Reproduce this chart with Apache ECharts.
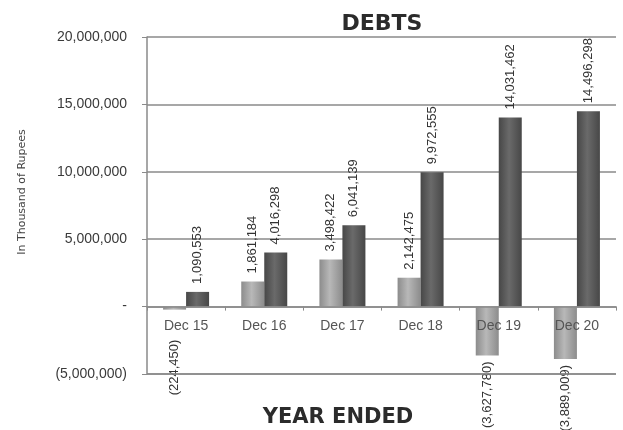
<!DOCTYPE html>
<html>
<head>
<meta charset="utf-8">
<script src="https://cdn.jsdelivr.net/npm/echarts@6/dist/echarts.min.js"></script>
<style>
  html, body { margin: 0; padding: 0; background: #fff; }
  #chart { width: 623px; height: 430px; }
</style>
</head>
<body>
<div id="chart"></div>
<script>
// Year-end debt figures, in thousand of rupees
var categories = ['Dec 15', 'Dec 16', 'Dec 17', 'Dec 18', 'Dec 19', 'Dec 20'];
var movement = [-224450, 1861184, 3498422, 2142475, -3627780, -3889009];
var totalDebt = [1090553, 4016298, 6041139, 9972555, 14031462, 14496298];
var yTicks = { min: -5000000, max: 20000000, step: 5000000 };

function fmt(v) {
  var s = Math.abs(v).toLocaleString('en-US');
  return v < 0 ? '(' + s + ')' : s;
}

var labelFont = { fontFamily: 'Liberation Sans, Arial, sans-serif', fontSize: 13, color: '#333' };
var gridColor = '#8a8a8a';

function barLabel(v) {
  if (v >= 0) {
    return Object.assign({ show: true, position: 'top', rotate: 90, align: 'left',
      verticalAlign: 'middle', distance: 8, formatter: function (p) { return fmt(p.value); } }, labelFont);
  }
  // short negative bars sit under the category label, so push their value further down
  var dist = v > -1000000 ? 30 : 6;
  return Object.assign({ show: true, position: 'bottom', rotate: 90, align: 'right',
    verticalAlign: 'middle', distance: dist, formatter: function (p) { return fmt(p.value); } }, labelFont);
}

function cylinder(edge, mid) {
  return new echarts.graphic.LinearGradient(0, 0, 1, 0, [
    { offset: 0, color: edge },
    { offset: 0.45, color: mid },
    { offset: 1, color: edge }
  ]);
}

function buildData(values) {
  return values.map(function (v) { return { value: v, label: barLabel(v) }; });
}

// plot area geometry
var gridBox = { left: 147, right: 7, top: 37, bottom: 56 };
var plotH = 430 - gridBox.top - gridBox.bottom;
// distance from the zero line to the bottom edge of the plot
var zeroToBottom = plotH * (0 - yTicks.min) / (yTicks.max - yTicks.min);

var chart = echarts.init(document.getElementById('chart'));
chart.setOption({
  animation: false,
  backgroundColor: '#fff',
  title: [
    { text: 'DEBTS', left: 377, top: 8, textAlign: 'center',
      textStyle: { fontFamily: 'DejaVu Sans', fontWeight: 'bold', fontSize: 22, color: '#2b2b2b' } },
    { text: 'YEAR ENDED', left: 333, top: 402, textAlign: 'center',
      textStyle: { fontFamily: 'DejaVu Sans', fontWeight: 'bold', fontSize: 21, color: '#2b2b2b' } }
  ],
  graphic: [{
    type: 'text', x: 22, y: 192, rotation: Math.PI / 2,
    style: { text: 'In Thousand of Rupees', fontFamily: 'DejaVu Sans', fontSize: 11,
      fill: '#444', textAlign: 'center', textVerticalAlign: 'middle' }
  }],
  grid: { left: gridBox.left, right: gridBox.right, top: gridBox.top, bottom: gridBox.bottom, containLabel: false },
  xAxis: {
    type: 'category',
    data: categories,
    z: 3,
    axisLine: { onZero: true, lineStyle: { color: gridColor, width: 1.5 } },
    axisTick: { show: true, length: 4, inside: false, lineStyle: { color: gridColor } },
    // category names sit just under the zero line
    axisLabel: { margin: 13 - zeroToBottom, fontFamily: 'Liberation Sans, Arial, sans-serif', fontSize: 14, color: '#555' }
  },
  yAxis: {
    type: 'value',
    min: yTicks.min, max: yTicks.max, interval: yTicks.step,
    axisLine: { show: true, lineStyle: { color: gridColor, width: 1.5 } },
    axisTick: { show: true, length: 5, lineStyle: { color: gridColor } },
    splitLine: { show: true, showMinLine: true, showMaxLine: true, lineStyle: { color: gridColor, width: 1.5 } },
    axisLabel: {
      margin: 20, fontFamily: 'Liberation Sans, Arial, sans-serif', fontSize: 14, color: '#3a3a3a',
      formatter: function (v) { return v === 0 ? '-' : fmt(v); }
    }
  },
  series: [
    {
      name: 'Movement', type: 'bar', barWidth: 23, barGap: '0%',
      itemStyle: { color: cylinder('#8c8c8c', '#b8b8b8') },
      data: buildData(movement),
      // gridline along the bottom of the value range
      markLine: {
        silent: true, symbol: 'none', animation: false,
        label: { show: false },
        lineStyle: { color: gridColor, width: 1.5, type: 'solid' },
        data: [{ yAxis: yTicks.min }]
      }
    },
    {
      name: 'Total debt', type: 'bar', barWidth: 23, barGap: '0%',
      itemStyle: { color: cylinder('#474747', '#6a6a6a') },
      data: buildData(totalDebt)
    }
  ]
});
</script>
</body>
</html>
